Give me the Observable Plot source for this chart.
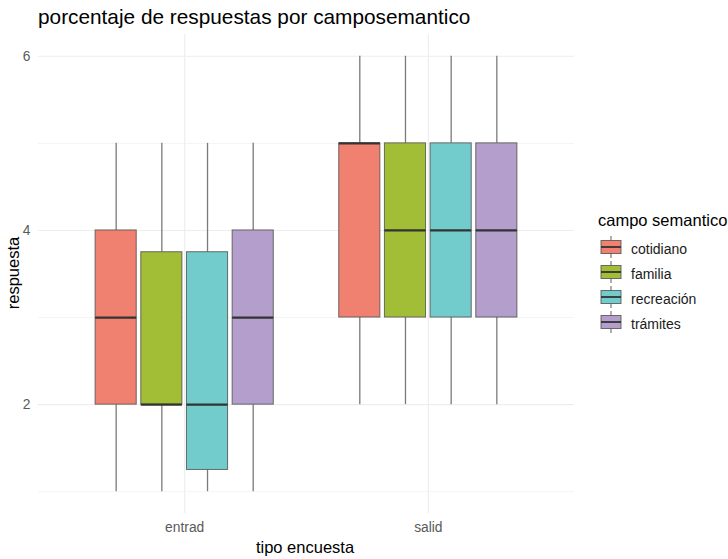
<!DOCTYPE html>
<html>
<head>
<meta charset="utf-8">
<script src="https://cdn.jsdelivr.net/npm/d3@7"></script>
<script src="https://cdn.jsdelivr.net/npm/@observablehq/plot@0.6"></script>
<style>
  html, body { margin: 0; padding: 0; background: white; }
  #chart { position: relative; width: 728px; height: 559px; }
</style>
</head>
<body>
<div id="chart"></div>
<script>
// ---- data ----
const tipos = ["entrad", "salid"];
const campos = ["cotidiano", "familia", "recreación", "trámites"];
const tipo = ["entrad", "entrad", "entrad", "entrad", "salid", "salid", "salid", "salid"];
const campo = ["cotidiano", "familia", "recreación", "trámites", "cotidiano", "familia", "recreación", "trámites"];
const ymin = [1, 1, 1, 1, 2, 2, 2, 2];
const q1 = [2, 2, 1.25, 2, 3, 3, 3, 3];
const med = [3, 2, 2, 3, 5, 4, 4, 4];
const q3 = [4, 3.75, 3.75, 4, 5, 5, 5, 5];
const ymax = [5, 5, 5, 5, 6, 6, 6, 6];
const yTicks = [2, 4, 6];
const yMinor = [1, 3, 5];
const colors = ["#F0806F", "#A2BD36", "#72CCCC", "#B49ECC"];

// dodge layout (ggplot-like): 0.75 of group step split in 4 slots, 10% padding
const slot = 0.75 / campos.length;
const half = slot * 0.9 / 2;
const rows = tipo.map((t, i) => {
  const c = campos.indexOf(campo[i]);
  const xc = tipos.indexOf(t) + (c - (campos.length - 1) / 2) * slot;
  return {tipo: t, campo: campo[i], xc, x1: xc - half, x2: xc + half,
          ymin: ymin[i], q1: q1[i], med: med[i], q3: q3[i], ymax: ymax[i]};
});

const font = "'Liberation Sans', Arial, sans-serif";

const plot = Plot.plot({
  width: 728,
  height: 559,
  marginLeft: 38,
  marginRight: 154,
  marginTop: 34,
  marginBottom: 46,
  style: {fontFamily: font, fontSize: "13.8px", background: "white", color: "#5a5a5a"},
  x: {domain: [-0.6, tipos.length - 1 + 0.6]},
  y: {domain: [0.75, 6.25]},
  color: {domain: campos, range: colors},
  marks: [
    Plot.ruleY(yMinor, {stroke: "#f4f4f4", strokeWidth: 1}),
    Plot.ruleY(yTicks, {stroke: "#ededed", strokeWidth: 1.1}),
    Plot.ruleX(tipos.map((d, i) => i), {stroke: "#ededed", strokeWidth: 1.1}),
    Plot.axisY({ticks: yTicks, tickFormat: d => String(d), tickSize: 0, tickPadding: 8, label: null, fill: "#5a5a5a"}),
    Plot.axisX({ticks: tipos.map((d, i) => i), tickFormat: i => tipos[i], tickSize: 0, tickPadding: 9, label: null, fill: "#5a5a5a"}),
    Plot.ruleX(rows, {x: "xc", y1: "ymin", y2: "q1", stroke: "#7a7a7a", strokeWidth: 1.3}),
    Plot.ruleX(rows, {x: "xc", y1: "q3", y2: "ymax", stroke: "#7a7a7a", strokeWidth: 1.3}),
    Plot.rect(rows, {x1: "x1", x2: "x2", y1: "q1", y2: "q3", fill: "campo", stroke: "#555", strokeOpacity: 0.85, strokeWidth: 1}),
    Plot.ruleY(rows, {x1: "x1", x2: "x2", y: "med", stroke: "#333", strokeWidth: 2.2})
  ]
});

document.getElementById("chart").appendChild(plot);

// ---- titles & legend ----
const svg = d3.select(plot);
svg.append("text").attr("x", 38).attr("y", 24).attr("text-anchor", "start")
  .attr("font-family", font).attr("font-size", 20.8).attr("fill", "#000")
  .text("porcentaje de respuestas por camposemantico");
svg.append("text").attr("transform", "translate(18.5,273) rotate(-90)")
  .attr("text-anchor", "middle").attr("font-family", font).attr("font-size", 16.5).attr("fill", "#000")
  .text("respuesta");
svg.append("text").attr("x", 305).attr("y", 553)
  .attr("text-anchor", "middle").attr("font-family", font).attr("font-size", 16.5).attr("fill", "#000")
  .text("tipo encuesta");

const lg = svg.append("g").attr("text-anchor", "start");
lg.append("text").attr("x", 598).attr("y", 226)
  .attr("font-family", font).attr("font-size", 16.5).attr("fill", "#000")
  .text("campo semantico");
campos.forEach((c, i) => {
  const cy = 247 + i * 25;
  const g = lg.append("g");
  g.append("line").attr("x1", 611).attr("x2", 611).attr("y1", cy - 11).attr("y2", cy + 11)
    .attr("stroke", "#7a7a7a").attr("stroke-width", 1.2);
  g.append("rect").attr("x", 601).attr("y", cy - 6.5).attr("width", 20).attr("height", 13)
    .attr("fill", colors[i]).attr("stroke", "#555").attr("stroke-opacity", 0.85);
  g.append("line").attr("x1", 601).attr("x2", 621).attr("y1", cy).attr("y2", cy)
    .attr("stroke", "#333").attr("stroke-width", 1.8);
  g.append("text").attr("x", 631).attr("y", cy + 7)
    .attr("font-family", font).attr("font-size", 14).attr("fill", "#1a1a1a")
    .text(c);
});
</script>
</body>
</html>
